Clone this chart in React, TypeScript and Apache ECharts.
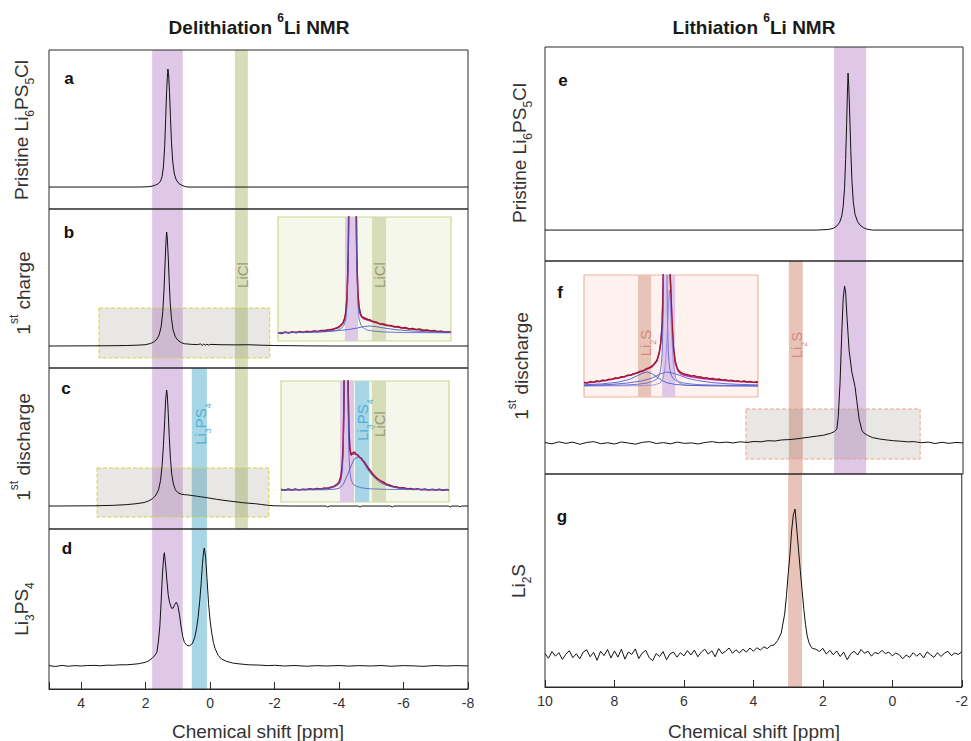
import React, { useEffect, useRef } from "react";
import * as echarts from "echarts";

const FONT = '"Liberation Sans", Arial, Helvetica, sans-serif';

// ---------- axes (ppm) ----------
const leftRange = [-8, 5];
const rightRange = [-2, 10];
const tickStep = 2;

// ---------- assignment bands (ppm) ----------
const bandPurpleL = [1.8, 0.85];
const bandLiClL = [-0.77, -1.17];
const bandLi3PS4L = [0.57, 0.1];
const bandPurpleR = [1.7, 0.78];
const bandLi2SR = [3.0, 2.6];

// ---------- zoom windows: [ppm from, ppm to, intensity top, intensity bottom] ----------
const zoomB = [3.45, -1.85, 33.3, -10.5];
const zoomC = [3.51, -1.82, 32.8, -9.5];
const zoomF = [4.23, -0.77, 21.7, -10.2];

// ---------- inset axes and bands ----------
const insetBRange = [-7, 7.4];
const insetCRange = [-7.2, 6.8];
const insetFRange = [-4.5, 6.7];
const insetBBandMain = [1.82, 0.74];
const insetBBandLiCl = [-0.43, -1.59];
const insetCBandMain = [1.88, 0.72];
const insetCBandLi3PS4 = [0.63, -0.55];
const insetCBandLiCl = [-0.78, -1.95];
const insetFBandLi2S = [3.22, 2.38];
const insetFBandMain = [1.67, 0.83];

// ---------- spectra [ppm, intensity] ----------
const specA = [[5,0],[2.2,0],[1.9,0.3],[1.8,0.8],[1.7,1.6],[1.6,3],[1.54,5],[1.49,9],[1.45,17],[1.41,35],[1.38,58],[1.35,82],[1.32,97],[1.31,100],[1.29,96],[1.26,80],[1.23,58],[1.2,38],[1.16,21],[1.11,11],[1.05,6],[0.97,3],[0.88,1.5],[0.8,0.6],[0.7,0],[-8,0]];

const specB = [[5,0],[3.2,0.2],[2.6,0.4],[2.2,0.8],[2.0,1.2],[1.85,2.2],[1.75,3.5],[1.65,6],[1.58,10],[1.52,17],[1.47,30],[1.43,50],[1.4,72],[1.37,92],[1.35,100],[1.33,95],[1.3,78],[1.27,56],[1.24,38],[1.2,24],[1.15,14],[1.08,8],[1.0,5],[0.9,3],[0.8,2],[0.6,1.5],[0.4,1.2],[0.3,1.8],[0.25,0.6],[0.2,1.7],[0.15,0.7],[0.1,1.6],[0.05,0.8],[0,1.4],[-0.4,1.1],[-0.8,1.0],[-1.2,1.1],[-1.6,0.7],[-2.0,0.4],[-3,0.1],[-4,0],[-8,0]];

const specC = [[5,0],[3.6,0.2],[3.0,0.6],[2.6,1.2],[2.3,2],[2.05,3],[1.9,4.5],[1.78,6.5],[1.68,9.5],[1.6,14],[1.54,22],[1.49,35],[1.45,52],[1.41,74],[1.38,92],[1.35,100],[1.33,96],[1.3,80],[1.27,60],[1.23,40],[1.19,27],[1.14,19],[1.08,14],[1.0,11.5],[0.9,10.3],[0.8,9.8],[0.7,9.6],[0.6,9.2],[0.5,8.8],[0.4,8.4],[0.3,8],[0.2,7.6],[0.1,7.2],[0,6.7],[-0.2,5.8],[-0.4,5.0],[-0.6,4.3],[-0.8,3.6],[-1.0,2.9],[-1.2,2.4],[-1.4,2.0],[-1.6,1.3],[-1.8,0.6],[-2.0,0.2],[-2.5,0],[-3.6,0],[-3.65,-0.8],[-3.7,0],[-4.6,0],[-4.65,-0.8],[-4.7,0],[-5.6,0],[-5.65,-0.8],[-5.7,0],[-7.4,0],[-7.45,-0.8],[-7.5,0],[-7.7,0],[-7.75,-0.8],[-7.8,0],[-8,0]];

const specD = [[5,0.3],[4.8,-0.4],[4.6,0.5],[4.4,-0.2],[4.2,0.3],[4.0,0.0],[3.8,0.4],[3.6,0.5],[3.4,0.2],[3.2,0.7],[3.0,0.6],[2.8,1.0],[2.6,1.0],[2.4,1.4],[2.2,2.0],[2.0,3.2],[1.9,4.5],[1.8,6.5],[1.7,9.5],[1.65,12],[1.6,22],[1.56,34],[1.52,55],[1.48,78],[1.44,93],[1.42,96],[1.38,85],[1.34,72],[1.3,60],[1.26,54],[1.2,49],[1.15,49],[1.1,52],[1.05,54],[1.0,51],[0.95,43],[0.9,33],[0.85,25],[0.8,20],[0.72,17.5],[0.65,17],[0.55,19],[0.48,24],[0.42,32],[0.37,42],[0.32,56],[0.28,70],[0.24,86],[0.2,98],[0.18,100],[0.14,92],[0.1,75],[0.05,53],[0.0,38],[-0.05,28],[-0.1,20],[-0.15,15],[-0.25,9],[-0.35,6],[-0.5,4],[-0.7,2.5],[-0.9,1.8],[-1.2,1],[-1.5,0.8],[-1.8,0.3],[-2.0,0.6],[-2.3,0.0],[-2.6,0.4],[-3.0,-0.2],[-3.3,0.3],[-3.6,0.0],[-4.0,0.4],[-4.3,-0.1],[-4.6,0.3],[-5.0,0.0],[-5.3,0.4],[-5.6,-0.2],[-6.0,0.3],[-6.3,0.1],[-6.6,-0.3],[-7.0,0.4],[-7.3,0.0],[-7.6,0.3],[-8.0,0.1]];

const specE = [[10,0],[2.2,0],[1.85,0.4],[1.72,1.2],[1.62,2.6],[1.54,5],[1.48,9],[1.44,15],[1.4,27],[1.37,45],[1.34,68],[1.32,86],[1.3,100],[1.28,92],[1.25,72],[1.22,50],[1.19,32],[1.15,18],[1.1,10],[1.03,5.5],[0.95,3],[0.85,1.4],[0.75,0.5],[0.6,0],[-2,0]];

const specF = [[10,0.3],[9.8,-0.5],[9.6,0.8],[9.4,-0.2],[9.2,0.6],[9.0,-0.8],[8.8,0.4],[8.6,0.9],[8.4,-0.4],[8.2,0.2],[8.0,-0.6],[7.8,0.7],[7.6,0.0],[7.4,-0.7],[7.2,0.5],[7.0,0.9],[6.8,-0.3],[6.6,0.3],[6.4,-0.5],[6.2,0.6],[6.0,-0.2],[5.8,0.1],[5.6,-0.6],[5.4,0.4],[5.2,0.9],[5.0,0.2],[4.8,0.6],[4.6,0.1],[4.4,0.8],[4.2,0.4],[4.0,1.0],[3.8,0.8],[3.6,1.5],[3.4,1.3],[3.2,2.0],[3.0,2.2],[2.8,2.6],[2.6,3.2],[2.4,3.8],[2.2,4.4],[2.0,5.0],[1.8,6.2],[1.7,7.2],[1.62,9],[1.58,17],[1.53,38],[1.48,70],[1.44,92],[1.4,100],[1.37,96],[1.33,80],[1.27,59],[1.19,45],[1.1,36],[1.05,27],[0.98,15],[0.9,8],[0.85,6.5],[0.75,5],[0.6,3.5],[0.4,2.6],[0.2,2.0],[0.0,1.5],[-0.2,1.2],[-0.4,0.8],[-0.6,0.9],[-0.8,0.2],[-1.0,0.6],[-1.2,-0.3],[-1.4,0.5],[-1.6,-0.2],[-1.8,0.4],[-2.0,0.1]];

const specG = [[10.0,1.0],[9.9,-2.2],[9.8,2.4],[9.7,-0.8],[9.6,1.6],[9.5,-3.0],[9.4,0.5],[9.3,3.0],[9.2,-1.8],[9.1,0.9],[9.0,-2.6],[8.9,2.0],[8.8,3.6],[8.7,-1.2],[8.6,1.8],[8.5,-3.6],[8.4,2.6],[8.3,-0.4],[8.2,3.8],[8.1,-2.0],[8.0,2.8],[7.9,-1.4],[7.8,4.0],[7.7,-2.8],[7.6,2.0],[7.5,0.4],[7.4,4.2],[7.3,-2.4],[7.2,1.4],[7.1,3.2],[7.0,-1.8],[6.9,-3.8],[6.8,1.0],[6.7,-1.0],[6.6,2.4],[6.5,-3.2],[6.4,0.8],[6.3,2.0],[6.2,-1.4],[6.1,1.6],[6.0,-0.6],[5.9,3.0],[5.8,0.0],[5.7,3.4],[5.6,-1.2],[5.5,2.0],[5.4,4.0],[5.3,0.6],[5.2,3.0],[5.1,-1.2],[5.0,4.4],[4.9,1.0],[4.8,2.6],[4.7,4.8],[4.6,1.2],[4.5,3.6],[4.4,1.4],[4.3,4.0],[4.2,2.0],[4.1,4.8],[4.0,2.6],[3.9,5.0],[3.8,3.4],[3.7,5.6],[3.6,4.4],[3.5,6.4],[3.4,7.0],[3.3,10],[3.2,15],[3.1,28],[3.05,40],[3.0,55],[2.95,68],[2.9,85],[2.85,96],[2.8,100],[2.75,86],[2.7,72],[2.65,58],[2.6,45],[2.55,32],[2.5,21],[2.45,13],[2.4,8.5],[2.35,6],[2.3,4.5],[2.2,4.0],[2.1,2.4],[2.0,4.6],[1.9,0.6],[1.8,3.2],[1.7,0.2],[1.6,2.8],[1.5,-1.0],[1.4,2.0],[1.3,-3.2],[1.2,0.8],[1.1,2.6],[1.0,0.0],[0.9,3.8],[0.8,1.2],[0.7,2.6],[0.6,-0.8],[0.5,1.8],[0.4,0.8],[0.3,3.2],[0.2,1.0],[0.1,2.0],[0.0,-0.6],[-0.1,1.4],[-0.2,0.2],[-0.3,-2.6],[-0.4,0.0],[-0.5,-1.6],[-0.6,1.6],[-0.7,-0.8],[-0.8,1.2],[-0.9,-2.0],[-1.0,2.2],[-1.1,0.2],[-1.2,-1.6],[-1.3,1.6],[-1.4,-1.0],[-1.5,1.2],[-1.6,2.6],[-1.7,-0.4],[-1.8,1.4],[-1.9,0.4],[-2.0,2.2]];

// ---------- inset curves ----------
const bInsetData = [[7.4,0.5],[7.1,-0.6],[6.8,1.0],[6.5,-0.2],[6.2,1.3],[5.9,0.1],[5.6,1.5],[5.3,0.4],[5.0,1.8],[4.7,0.9],[4.4,2.0],[4.1,1.2],[3.8,2.6],[3.5,2.0],[3.2,3.4],[2.9,3.0],[2.6,4.8],[2.4,5.2],[2.2,7.5],[2.0,10],[1.85,15],[1.75,22],[1.65,38],[1.55,80],[1.45,200],[1.35,480],[1.25,900],[1.2,1000],[1.15,900],[1.05,480],[0.95,200],[0.85,80],[0.75,40],[0.65,26],[0.55,20],[0.45,17],[0.3,15.5],[0.1,14.5],[-0.1,13.5],[-0.3,13],[-0.5,11.5],[-0.8,11],[-1.1,9],[-1.4,9],[-1.7,7.5],[-2.0,7.5],[-2.3,6],[-2.6,6.5],[-2.9,5],[-3.2,5.5],[-3.5,4],[-3.8,4.5],[-4.1,3.5],[-4.4,4],[-4.7,2.5],[-5.0,3],[-5.3,2],[-5.6,2.5],[-5.9,1.2],[-6.2,1.8],[-6.5,0.6],[-6.8,1.2],[-7.0,0.5]];
const bInsetFit = [[7.4,0.4],[6,0.8],[5,1.3],[4,2.0],[3.2,3.0],[2.6,4.6],[2.2,7],[2.0,9.5],[1.85,14],[1.75,21],[1.65,37],[1.55,80],[1.45,200],[1.35,480],[1.25,900],[1.2,1000],[1.15,900],[1.05,480],[0.95,200],[0.85,80],[0.75,40],[0.65,25],[0.55,19],[0.45,16],[0.3,14.5],[0.1,13.5],[-0.2,12.5],[-0.5,11.2],[-1,9.5],[-1.5,8],[-2,7],[-2.5,6],[-3,5],[-3.5,4.3],[-4,3.6],[-4.5,3],[-5,2.5],[-5.5,2],[-6,1.6],[-6.5,1.2],[-7,0.9]];
const bInsetCompMain = [[7.4,0.3],[5,0.6],[3.5,1.2],[2.8,2],[2.4,3],[2.1,5],[1.9,8],[1.75,14],[1.65,28],[1.55,70],[1.45,190],[1.35,470],[1.25,890],[1.2,1000],[1.15,890],[1.05,470],[0.95,190],[0.85,70],[0.75,28],[0.65,14],[0.5,8],[0.3,5],[0,3],[-0.6,1.8],[-1.5,1],[-3,0.5],[-7,0.2]];
const bInsetCompLiCl = [[7.4,0.3],[5,0.8],[3.5,1.5],[2.5,2.3],[1.5,3.5],[0.8,5],[0.2,6.5],[-0.26,7],[-0.8,6.3],[-1.5,4.8],[-2.5,3.2],[-3.5,2.2],[-5,1.2],[-7,0.5]];

const cInsetData = [[6.8,0.8],[6.5,-0.4],[6.2,1.0],[5.9,0.0],[5.6,1.2],[5.3,-0.2],[5.0,0.9],[4.7,0.3],[4.4,1.4],[4.1,0.5],[3.8,1.6],[3.5,0.9],[3.2,2.0],[2.9,1.5],[2.6,3.0],[2.4,3.2],[2.2,5.2],[2.05,6.5],[1.95,8.5],[1.8,14],[1.7,25],[1.62,45],[1.55,92],[1.48,275],[1.42,717],[1.38,1019],[1.34,721],[1.28,284],[1.21,108],[1.14,60],[1.06,41],[0.96,35],[0.85,37],[0.7,38],[0.55,36],[0.4,35],[0.25,33],[0.1,32],[-0.05,29],[-0.2,27],[-0.35,24],[-0.5,21],[-0.65,19],[-0.8,16],[-1.0,14],[-1.2,11.5],[-1.4,10],[-1.6,8.5],[-1.8,7.5],[-2.0,5.5],[-2.2,5],[-2.5,3.5],[-2.8,3.2],[-3.1,2.0],[-3.4,2.4],[-3.7,1.0],[-4.0,1.6],[-4.3,0.5],[-4.6,1.2],[-4.9,0.2],[-5.2,1.0],[-5.5,-0.2],[-5.8,0.8],[-6.1,0.0],[-6.4,0.9],[-6.7,-0.3],[-7.0,0.6],[-7.2,0.1]];
const cInsetFit = [[6.8,0.3],[5,0.5],[4,0.9],[3.2,1.4],[2.6,2.6],[2.2,4.8],[1.95,7.8],[1.8,14],[1.7,25],[1.62,45],[1.55,92],[1.48,275],[1.42,717],[1.38,1019],[1.34,721],[1.28,284],[1.21,108],[1.14,60],[1.06,41],[0.96,35],[0.8,36],[0.6,36],[0.4,34.5],[0.2,32],[-0.1,28.5],[-0.4,23.5],[-0.7,18.5],[-1.0,14],[-1.4,9.8],[-1.8,6.8],[-2.3,4.3],[-3,2.4],[-4,1.1],[-5,0.5],[-7.2,0.2]];
const cInsetCompMain = [[6.8,0.3],[4.5,0.6],[3.2,1.2],[2.6,2.2],[2.2,3.8],[1.95,6],[1.8,10],[1.7,18],[1.62,35],[1.55,80],[1.48,260],[1.42,700],[1.38,1000],[1.34,700],[1.28,260],[1.21,80],[1.14,35],[1.06,18],[0.96,10],[0.8,6],[0.55,3.8],[0.1,2.2],[-0.6,1.2],[-2,0.6],[-7.2,0.2]];
const cInsetCompLi3PS4 = [[6.8,0],[3,0.3],[2.2,1],[1.9,2],[1.6,6],[1.3,14],[1.0,23],[0.7,31],[0.4,33],[0.2,32],[-0.1,27],[-0.4,21],[-0.7,16],[-1.0,12],[-1.4,8],[-1.8,5.5],[-2.3,3.5],[-3,1.8],[-4,0.8],[-5,0.3],[-7.2,0]];

const fInsetData = [[6.7,3.8],[6.5,2.8],[6.3,4.5],[6.1,3.6],[5.9,5.2],[5.7,4.4],[5.5,6.0],[5.3,5.4],[5.1,6.8],[4.9,6.6],[4.7,8.2],[4.5,7.6],[4.3,9.4],[4.1,9.0],[3.9,10.8],[3.7,10.6],[3.5,12.4],[3.3,12.8],[3.1,14.6],[2.9,15.0],[2.7,17.2],[2.5,18.0],[2.3,20.4],[2.15,22.5],[2.0,26],[1.85,34],[1.75,45],[1.67,62],[1.6,105],[1.55,230],[1.5,620],[1.47,1010],[1.44,630],[1.39,250],[1.34,150],[1.27,125],[1.2,125],[1.12,100],[1.05,70],[0.95,40],[0.83,25],[0.7,18],[0.6,15.5],[0.5,13.8],[0.35,12.6],[0.2,11.8],[0.0,11.2],[-0.2,10.0],[-0.4,10.4],[-0.6,9.0],[-0.8,9.2],[-1.0,8.0],[-1.2,8.4],[-1.4,7.2],[-1.6,7.6],[-1.8,6.6],[-2.0,7.0],[-2.2,5.8],[-2.4,6.4],[-2.6,5.4],[-2.8,5.8],[-3.0,4.8],[-3.2,5.4],[-3.4,4.4],[-3.6,5.0],[-3.8,4.0],[-4.0,4.6],[-4.2,3.6],[-4.4,4.2],[-4.5,3.8]];
const fInsetFit = [[6.7,3.0],[6,4.0],[5.3,5.5],[4.8,7.0],[4.2,9.0],[3.6,11.5],[3.1,14],[2.7,16.5],[2.3,19.5],[2.0,25],[1.85,33],[1.75,44],[1.67,61],[1.6,104],[1.55,229],[1.5,619],[1.47,1009],[1.44,629],[1.39,249],[1.34,149],[1.27,124],[1.2,124],[1.12,99],[1.05,69],[0.95,39],[0.83,23],[0.65,15],[0.5,12.5],[0.2,10.5],[-0.3,9],[-0.8,7.8],[-1.5,6.5],[-2.3,5.5],[-3,4.6],[-3.8,3.9],[-4.5,3.4]];
const fInsetCompMain = [[6.7,0.3],[5,0.6],[4,1],[3.2,1.8],[2.7,2.8],[2.3,4.5],[2.0,7],[1.85,11],[1.75,18],[1.67,32],[1.6,75],[1.55,200],[1.5,600],[1.47,1000],[1.44,600],[1.39,200],[1.34,75],[1.27,32],[1.19,18],[1.09,11],[0.94,7],[0.64,4.5],[0.24,2.8],[-0.5,1.5],[-2,0.7],[-4.5,0.3]];
const fInsetCompShoulder = [[6.7,0],[3,0.3],[2.2,1],[1.8,3],[1.6,8],[1.45,22],[1.35,50],[1.25,85],[1.2,96],[1.15,85],[1.05,50],[0.95,22],[0.8,8],[0.6,3],[0.2,1],[-1,0.3],[-4.5,0]];
const fInsetCompLi2S = [[6.7,1.2],[5.5,2.2],[4.5,3.8],[3.8,6.5],[3.3,10],[2.9,13],[2.64,14],[2.35,12.5],[2.0,9],[1.7,5.5],[1.3,3],[0.8,1.5],[0,0.6],[-1.5,0.2],[-4.5,0]];
const fInsetCompBroad = [[6.7,0.5],[5,1.5],[4,2.8],[3,5],[2.3,8],[1.8,12],[1.4,14],[1.0,13],[0.6,11],[0.1,8],[-0.6,5.5],[-1.5,3.5],[-2.5,2.2],[-3.5,1.5],[-4.5,1.1]];

// ---------- colours ----------
const C_PURPLE = "#dfc7e7";
const C_GREEN = "#d6ddb8";
const C_BLUE = "#a7d7e7";
const C_LI2S = "#e8c3b7";
const C_LINE = "#111111";
const C_DATA = "#9b1c24";
const C_FIT = "#c81ec8";
const C_COMP = "#4c5ccd";
const C_COMP2 = "#8f7fe0";
const T_LICL = "#9d9c76";
const T_LI3PS4 = "#4fb0da";
const T_LI2S = "#d4897a";

function bandPair(r: number[], color: string) {
  return [{ xAxis: r[0], itemStyle: { color } }, { xAxis: r[1] }];
}

function rich(size: number, color: string, weight = "normal") {
  const sub = Math.round(size * 0.62);
  return {
    m: { fontSize: size, fontFamily: FONT, fontWeight: weight, fill: color, color, lineHeight: Math.round(size * 1.6) },
    s: { fontSize: sub, fontFamily: FONT, fontWeight: weight, fill: color, color, lineHeight: sub, verticalAlign: "bottom" },
    u: { fontSize: sub, fontFamily: FONT, fontWeight: weight, fill: color, color, lineHeight: sub, verticalAlign: "top" },
  };
}

function txt(x: number, y: number, text: string, size: number, color: string, weight = "normal", rotate = false) {
  return {
    type: "text",
    x,
    y,
    rotation: rotate ? Math.PI / 2 : 0,
    z: 50,
    silent: true,
    style: {
      text,
      rich: rich(size, color, weight),
      fill: color,
      fontSize: size,
      fontFamily: FONT,
      fontWeight: weight,
      align: "center",
      verticalAlign: "middle",
    },
  };
}

function buildOption() {
  const grid: any[] = [];
  const xAxis: any[] = [];
  const yAxis: any[] = [];
  const series: any[] = [];

  const mainPanels = [
    { rect: [49, 50, 419, 159], xr: leftRange, yr: [-18.6, 116.1], data: specA, bands: [[bandPurpleL, C_PURPLE], [bandLiClL, C_GREEN]], zoom: null as any, zoomColor: "", axis: false },
    { rect: [49, 209, 419, 159], xr: leftRange, yr: [-19.3, 120.2], data: specB, bands: [[bandPurpleL, C_PURPLE], [bandLiClL, C_GREEN]], zoom: zoomB, zoomColor: "#cdd64a", axis: false },
    { rect: [49, 368, 419, 161], xr: leftRange, yr: [-19.8, 119.0], data: specC, bands: [[bandPurpleL, C_PURPLE], [bandLiClL, C_GREEN], [bandLi3PS4L, C_BLUE]], zoom: zoomC, zoomColor: "#cdd64a", axis: false },
    { rect: [49, 529, 419, 160], xr: leftRange, yr: [-19.5, 116.1], data: specD, bands: [[bandPurpleL, C_PURPLE], [bandLi3PS4L, C_BLUE]], zoom: null, zoomColor: "", axis: true },
    { rect: [545, 47, 418, 214], xr: rightRange, yr: [-19.7, 116.6], data: specE, bands: [[bandPurpleR, C_PURPLE]], zoom: null, zoomColor: "", axis: false },
    { rect: [545, 261, 418, 213], xr: rightRange, yr: [-19.7, 115.9], data: specF, bands: [[bandPurpleR, C_PURPLE], [bandLi2SR, C_LI2S]], zoom: zoomF, zoomColor: "#f0a292", axis: false },
    { rect: [545, 474, 418, 213], xr: rightRange, yr: [-21.9, 124.0], data: specG, bands: [[bandLi2SR, C_LI2S]], zoom: null, zoomColor: "", axis: true },
  ];

  mainPanels.forEach((p, i) => {
    grid.push({
      left: p.rect[0], top: p.rect[1], width: p.rect[2], height: p.rect[3],
      show: true, backgroundColor: "transparent", borderColor: "#2a2a2a", borderWidth: 1, z: 3,
    });
    xAxis.push({
      gridIndex: i, type: "value", min: p.xr[0], max: p.xr[1], inverse: true, interval: tickStep,
      show: p.axis,
      position: "bottom",
      axisLine: { show: true, onZero: false, lineStyle: { color: "#2a2a2a", width: 1 } },
      axisTick: { show: true, inside: true, length: 7, lineStyle: { color: "#2a2a2a", width: 1 } },
      axisLabel: {
        show: true, margin: 7, fontSize: 14, color: "#333", fontFamily: FONT,
        formatter: (v: number) => (Math.abs(v % tickStep) < 1e-9 ? String(v) : ""),
      },
      splitLine: { show: false },
      z: 3,
    });
    yAxis.push({ gridIndex: i, type: "value", min: p.yr[0], max: p.yr[1], show: false, splitLine: { show: false } });

    series.push({
      type: "line", xAxisIndex: i, yAxisIndex: i, data: [], z: 1, silent: true,
      markArea: {
        silent: true, z: 1, label: { show: false },
        data: p.bands.map((b: any) => bandPair(b[0], b[1])),
      },
    });
    if (p.zoom) {
      series.push({
        type: "line", xAxisIndex: i, yAxisIndex: i, data: [], z: 2, silent: true,
        markArea: {
          silent: true, z: 2, label: { show: false },
          itemStyle: { color: "rgba(125,122,105,0.18)", borderColor: p.zoomColor, borderWidth: 1, borderType: "dashed" },
          data: [[{ xAxis: p.zoom[0], yAxis: p.zoom[2] }, { xAxis: p.zoom[1], yAxis: p.zoom[3] }]],
        },
      });
    }
    series.push({
      type: "line", xAxisIndex: i, yAxisIndex: i, data: p.data, z: 4, silent: true,
      symbol: "none", showSymbol: false, clip: true,
      lineStyle: { color: C_LINE, width: 1 },
    });
  });

  const insets = [
    {
      rect: [278, 217, 173, 124], xr: insetBRange, yr: [-8, 116], bg: "#f4f7ea", border: "#c8dc8a",
      bands: [[insetBBandMain, C_PURPLE], [insetBBandLiCl, C_GREEN]],
      curves: [[bInsetFit, C_FIT, 1.4], [bInsetData, C_DATA, 1.4], [bInsetCompMain, C_COMP, 0.8], [bInsetCompLiCl, C_COMP, 0.9]],
    },
    {
      rect: [281, 381, 168, 121], xr: insetCRange, yr: [-12, 109], bg: "#f4f7ea", border: "#c8dc8a",
      bands: [[insetCBandMain, C_PURPLE], [insetCBandLi3PS4, C_BLUE], [insetCBandLiCl, C_GREEN]],
      curves: [[cInsetFit, C_FIT, 1.4], [cInsetData, C_DATA, 1.4], [cInsetCompMain, C_COMP, 0.8], [cInsetCompLi3PS4, C_COMP, 0.9]],
    },
    {
      rect: [584, 275, 174, 122], xr: insetFRange, yr: [-11, 111], bg: "#fdf2ee", border: "#f2b49e",
      bands: [[insetFBandLi2S, C_LI2S], [insetFBandMain, C_PURPLE]],
      curves: [[fInsetFit, C_FIT, 1.4], [fInsetData, C_DATA, 1.4], [fInsetCompMain, C_COMP, 0.8], [fInsetCompShoulder, C_COMP2, 0.8], [fInsetCompLi2S, C_COMP, 0.9], [fInsetCompBroad, C_COMP, 0.9]],
    },
  ];

  insets.forEach((ins, k) => {
    const gi = mainPanels.length + k;
    grid.push({
      left: ins.rect[0], top: ins.rect[1], width: ins.rect[2], height: ins.rect[3],
      show: true, backgroundColor: ins.bg, borderColor: ins.border, borderWidth: 1.2, z: 5,
    });
    xAxis.push({ gridIndex: gi, type: "value", min: ins.xr[0], max: ins.xr[1], inverse: true, show: false });
    yAxis.push({ gridIndex: gi, type: "value", min: ins.yr[0], max: ins.yr[1], show: false });
    series.push({
      type: "line", xAxisIndex: gi, yAxisIndex: gi, data: [], z: 6, silent: true,
      markArea: {
        silent: true, z: 6, label: { show: false },
        data: ins.bands.map((b: any) => bandPair(b[0], b[1])),
      },
    });
    ins.curves.forEach((c: any, j: number) => {
      series.push({
        type: "line", xAxisIndex: gi, yAxisIndex: gi, data: c[0], z: 7 + j, silent: true,
        symbol: "none", showSymbol: false, clip: true,
        lineStyle: { color: c[1], width: c[2] },
      });
    });
  });

  const graphic = [
    txt(259, 27, "{m|Delithiation }{u|6}{m|Li NMR}", 19, "#1a1a1a", "bold"),
    txt(754, 27, "{m|Lithiation }{u|6}{m|Li NMR}", 19, "#1a1a1a", "bold"),
    txt(21, 130, "{m|Pristine Li}{s|6}{m|PS}{s|5}{m|Cl}", 19, "#333", "normal", true),
    txt(23, 293, "{m|1}{u|st}{m| charge}", 19, "#333", "normal", true),
    txt(23, 447, "{m|1}{u|st}{m| discharge}", 19, "#333", "normal", true),
    txt(21, 609, "{m|Li}{s|3}{m|PS}{s|4}", 19, "#333", "normal", true),
    txt(519, 153, "{m|Pristine Li}{s|6}{m|PS}{s|5}{m|Cl}", 19, "#333", "normal", true),
    txt(521, 366, "{m|1}{u|st}{m| discharge}", 19, "#333", "normal", true),
    txt(518, 581, "{m|Li}{s|2}{m|S}", 19, "#333", "normal", true),
    txt(69, 78, "{m|a}", 17, "#111", "bold"),
    txt(69, 232, "{m|b}", 17, "#111", "bold"),
    txt(66, 388, "{m|c}", 17, "#111", "bold"),
    txt(67, 548, "{m|d}", 17, "#111", "bold"),
    txt(563, 80, "{m|e}", 17, "#111", "bold"),
    txt(560, 292, "{m|f}", 17, "#111", "bold"),
    txt(562, 516, "{m|g}", 17, "#111", "bold"),
    txt(242, 275, "{m|LiCl}", 15, T_LICL, "normal", true),
    txt(200, 424, "{m|Li}{s|3}{m|PS}{s|4}", 15, T_LI3PS4, "normal", true),
    txt(379, 275, "{m|LiCl}", 15, T_LICL, "normal", true),
    txt(362, 420, "{m|Li}{s|3}{m|PS}{s|4}", 15, T_LI3PS4, "normal", true),
    txt(379, 424, "{m|LiCl}", 15, T_LICL, "normal", true),
    txt(796, 345, "{m|Li}{s|2}{m|S}", 15, T_LI2S, "normal", true),
    txt(645, 343, "{m|Li}{s|2}{m|S}", 15, T_LI2S, "normal", true),
    txt(258, 731, "{m|Chemical shift [ppm]}", 19, "#333"),
    txt(754, 731, "{m|Chemical shift [ppm]}", 19, "#333"),
  ];

  return {
    animation: false,
    backgroundColor: "#ffffff",
    textStyle: { fontFamily: FONT },
    grid,
    xAxis,
    yAxis,
    series,
    graphic: { elements: graphic },
  };
}

export default function App() {
  const ref = useRef<HTMLDivElement>(null);
  useEffect(() => {
    if (!ref.current) return;
    const chart = echarts.init(ref.current, null, { renderer: "svg" });
    chart.setOption(buildOption() as any);
    return () => chart.dispose();
  }, []);
  return (
    <div
      ref={ref}
      style={{ position: "fixed", left: 0, top: 0, width: 971, height: 741, background: "#fff" }}
    />
  );
}
